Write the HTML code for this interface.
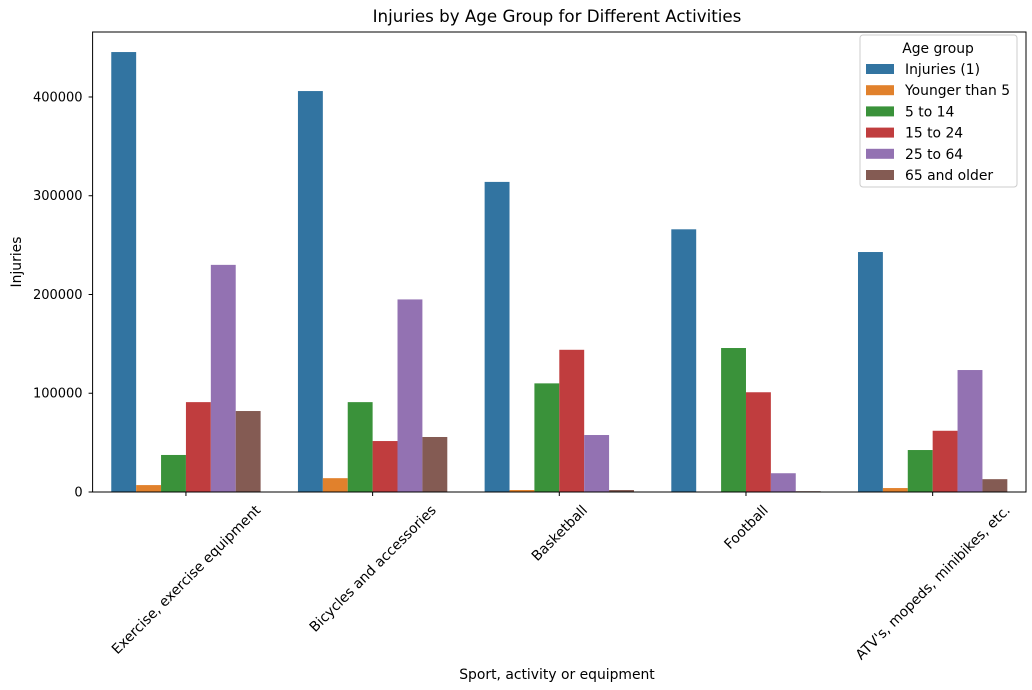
<!DOCTYPE html>
<html><head><meta charset="utf-8"><style>body{margin:0;background:#fff}svg{display:block;font-family:"DejaVu Sans","Liberation Sans",sans-serif}</style></head>
<body>
<svg id="chart" width="1032" height="690" xmlns="http://www.w3.org/2000/svg">
<text x="557" y="22" text-anchor="middle" font-size="16.7">Injuries by Age Group for Different Activities</text>
<text x="557" y="679" text-anchor="middle" font-size="13.9">Sport, activity or equipment</text>
<text transform="translate(21,262) rotate(-90)" text-anchor="middle" font-size="13.9">Injuries</text>
<g id="bars"></g><g id="axes"></g><g id="legend"></g>
</svg>
<script>
const categories=["Exercise, exercise equipment","Bicycles and accessories","Basketball","Football","ATV's, mopeds, minibikes, etc."];
const seriesNames=["Injuries (1)","Younger than 5","5 to 14","15 to 24","25 to 64","65 and older"];
const injuriesTotal=[445500,406000,314000,266000,243000];
const youngerThan5=[7000,14000,2000,500,4000];
const age5to14=[37500,91000,110000,145800,42500];
const age15to24=[91000,51600,144000,101000,62000];
const age25to64=[230000,195000,57700,19000,123500];
const age65plus=[82000,55700,2000,800,13000];
const yTicks=[0,100000,200000,300000,400000];
const series=[injuriesTotal,youngerThan5,age5to14,age15to24,age25to64,age65plus];
const colors=["#3274a1","#e1812c","#3a923a","#c03d3e","#9372b2","#845b53"];
const NS="http://www.w3.org/2000/svg";
const L=92.6,R=1026,T=32,B=492,yMax=465800;
const step=(R-L)/categories.length;
const y=v=>B-v/yMax*(B-T);
const xc=i=>L+step*(i+0.5);
const bw=step*0.8/series.length;
function mk(tag,attrs,parent){const e=document.createElementNS(NS,tag);for(const k in attrs)e.setAttribute(k,attrs[k]);parent.appendChild(e);return e;}
const gb=document.getElementById('bars'),ga=document.getElementById('axes'),gl=document.getElementById('legend');
series.forEach((s,si)=>s.forEach((v,ci)=>{
 const r=mk('rect',{x:xc(ci)-step*0.4+si*bw,y:y(v),width:bw,height:B-y(v),fill:colors[si]},gb);
 
 
}));
const frame=mk('rect',{x:L,y:T,width:R-L,height:B-T,fill:'none',stroke:'#000','stroke-width':1},ga);


yTicks.forEach(t=>{
 mk('line',{x1:L-4,x2:L,y1:y(t),y2:y(t),stroke:'#000'},ga);
 const tx=mk('text',{x:L-10,y:y(t)+4.5,'text-anchor':'end','font-size':13},ga);
 tx.textContent=t;
 
 
});
categories.forEach((c,i)=>{
 mk('line',{x1:xc(i),x2:xc(i),y1:B,y2:B+4,stroke:'#000'},ga);
 const tx=mk('text',{'text-anchor':'middle','font-size':13.9},ga);
 tx.textContent=c;
 
 
 const w=tx.getComputedTextLength();
 const cy=503+(w*0.707+13*0.707)/2;
 tx.setAttribute('transform','translate('+xc(i)+','+cy+') rotate(-45) translate(0,4.8)');
});
const box=mk('rect',{x:860,y:35,width:157,height:152,rx:3,fill:'#fff','fill-opacity':0.8,stroke:'#ccc'},gl);


const lt=mk('text',{x:938,y:53,'text-anchor':'middle','font-size':13.9},gl);
lt.textContent='Age group';


seriesNames.forEach((n,i)=>{
 const yy=69+i*21.2;
 const g=mk('g',{},gl);
 
 
 mk('rect',{x:866,y:yy-5,width:28,height:10,fill:colors[i]},g);
 const t=mk('text',{x:905,y:yy+5,'font-size':13.9},g);t.textContent=n;
});
</script>
</body></html>
